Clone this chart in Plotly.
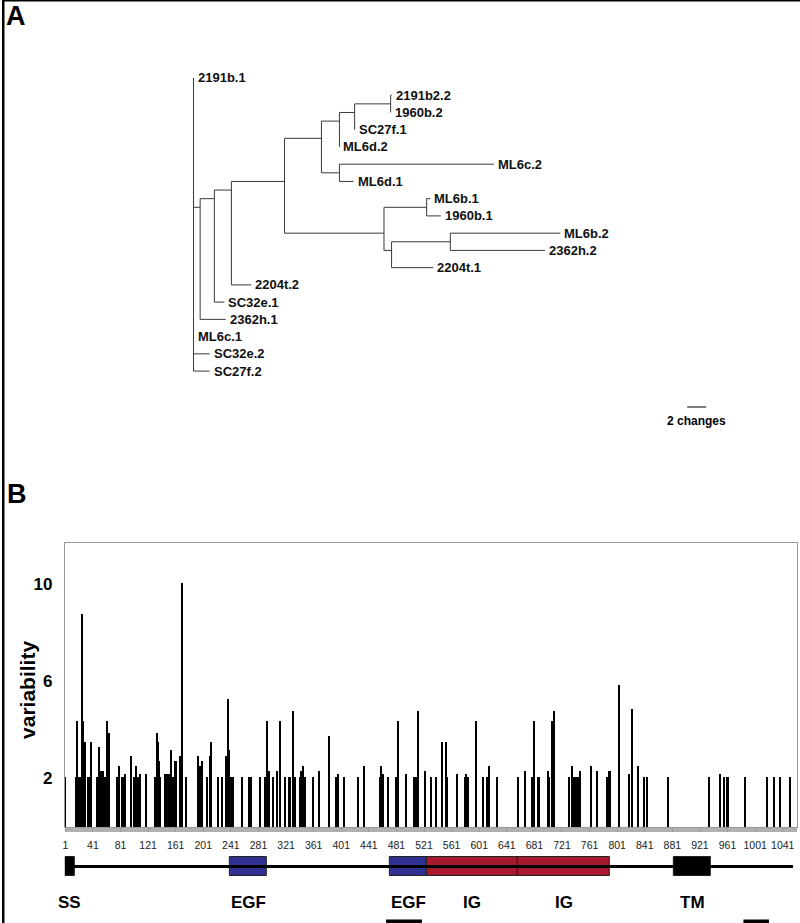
import plotly.graph_objects as go

W, H = 800, 923
FONT = "Liberation Sans, Arial, sans-serif"

# ---------------- Panel A: phylogenetic tree ----------------
node_names = ["", "2191b.1", "", "", "", "", "", "", "", "", "2191b2.2", "1960b.2", "SC27f.1",
              "ML6d.2", "", "ML6c.2", "ML6d.1", "", "", "ML6b.1", "1960b.1", "", "", "ML6b.2",
              "2362h.2", "2204t.1", "2204t.2", "SC32e.1", "2362h.1", "ML6c.1", "SC32e.2", "SC27f.2"]
node_parent = [-1, 0, 0, 2, 3, 4, 5, 6, 7, 8, 9, 9, 8,
               7, 6, 14, 14, 5, 17, 18, 18, 17, 21, 22,
               22, 21, 4, 3, 2, 0, 0, 0]
branch_len = [0, 0, 0.7, 1.5, 1.8, 5.6, 3.9, 1.9, 1.6, 3.8, 0.1, 0.0, 0.0,
              0.0, 1.9, 16.3, 1.5, 10.5, 4.5, 0.4, 1.5, 0.8, 6.2, 11.6,
              10.0, 4.4, 2.1, 1.05, 2.7, 0.0, 1.7, 1.7]
scale_bar_changes = 2
scale_bar_x = 52.1

# ---------------- Panel B: variability per residue ----------------
residue = [1, 17, 18, 20, 22, 25, 27, 30, 34, 36, 38, 47, 49, 50, 52, 53, 56, 58, 61, 62, 64,
           76, 79, 84, 87, 96, 101, 103, 104, 106, 109, 118, 131, 133, 134, 136, 137, 139,
           146, 149, 152, 155, 157, 160, 161, 167, 170, 176, 194, 196, 199, 206, 211, 212,
           222, 228, 234, 237, 239, 242, 244, 257, 267, 269, 271, 284, 290, 293, 294, 296,
           302, 308, 312, 319, 325, 327, 331, 334, 342, 343, 345, 347, 349, 360, 369, 384,
           394, 396, 397, 405, 425, 434, 457, 459, 462, 469, 480, 483, 495, 507, 509, 513,
           523, 531, 539, 547, 553, 555, 569, 580, 582, 584, 585, 597, 606, 613, 616, 627,
           657, 668, 678, 680, 686, 688, 701, 703, 707, 708, 710, 732, 735, 738, 741, 744,
           747, 763, 772, 786, 790, 804, 818, 823, 831, 840, 845, 875, 934, 950, 956, 960,
           962, 987, 1019, 1029, 1037, 1052]
variability = [2.06, 2.06, 4.38, 2.06, 2.06, 8.78, 4.38, 3.50, 2.06, 2.06, 3.50, 2.06, 2.06, 3.29,
               2.29, 2.29, 2.29, 2.06, 3.87, 4.38, 3.87,
               2.06, 2.50, 2.06, 2.18, 2.94, 2.06, 2.06, 2.50, 2.06, 2.18, 2.18, 2.06, 2.06, 3.87,
               3.50, 2.70, 2.06,
               2.18, 2.18, 2.18, 3.18, 2.06, 2.70, 2.70, 2.94, 10.04, 2.06, 2.94, 2.50, 2.70, 2.06,
               2.94, 3.50,
               2.06, 2.06, 2.94, 5.27, 3.18, 2.06, 2.06, 2.06, 2.06, 2.06, 2.06, 2.06, 2.06, 3.87,
               4.38, 2.29,
               2.06, 2.29, 4.38, 2.06, 2.06, 2.06, 4.77, 2.06, 2.06, 2.29, 2.50, 2.06, 2.06, 2.06,
               2.29, 3.73,
               2.06, 2.06, 2.18, 2.06, 2.06, 2.50, 2.06, 2.50, 2.18, 2.06, 2.06, 4.38, 2.18, 2.06,
               2.06, 4.77,
               2.29, 2.06, 2.06, 3.50, 3.50, 2.06, 2.18, 2.06, 2.18, 2.06, 2.06, 4.38, 2.06, 2.06,
               2.50, 2.06,
               2.06, 2.29, 2.06, 4.38, 2.06, 2.06, 2.29, 2.06, 4.38, 4.38, 4.77, 2.06, 2.50, 2.06,
               2.06, 2.06,
               2.29, 2.50, 2.29, 2.06, 2.29, 5.83, 2.18, 4.87, 2.50, 2.06, 2.06, 2.06, 2.06, 2.18,
               2.06, 2.06,
               2.06, 2.06, 2.06, 2.06, 2.06, 2.06]
y_ticks = [2, 6, 10]
x_ticks = [1, 41, 81, 121, 161, 201, 241, 281, 321, 361, 401, 441, 481, 521, 561, 601, 641,
           681, 721, 761, 801, 841, 881, 921, 961, 1001, 1041]

# protein domain architecture
protein_span = [1, 1056]
domain_names = ["SS", "EGF", "EGF", "IG", "IG", "TM"]
domain_start = [0, 239, 471, 525, 657, 883]
domain_end = [15, 293, 525, 657, 790, 937]
domain_colors = ["#000000", "#2E3192", "#2E3192", "#A6192E", "#A6192E", "#000000"]
underline_start = [466, 984]
underline_end = [518, 1021]

# ---------------- tree layout ----------------
n = len(node_names)
children = [[] for _ in range(n)]
for i, p in enumerate(node_parent):
    if p >= 0:
        children[p].append(i)
nx = [0.0] * n
for i in range(n):
    if node_parent[i] >= 0:
        nx[i] = nx[node_parent[i]] + branch_len[i]
leaves = [i for i in range(n) if not children[i]]
ny = [0.0] * n
for k, i in enumerate(leaves):
    ny[i] = k


def leaf_set(i):
    if not children[i]:
        return [i]
    out = []
    for c in children[i]:
        out += leaf_set(c)
    return out


for i in range(n):
    if children[i]:
        ls = leaf_set(i)
        ny[i] = sum(ny[j] for j in ls) / len(ls)

tx, ty = [], []
for i in range(n):
    p = node_parent[i]
    if p >= 0:
        tx += [nx[p], nx[i], None]
        ty += [ny[i], ny[i], None]
    if children[i]:
        cys = [ny[c] for c in children[i]]
        tx += [nx[i], nx[i], None]
        ty += [min(cys), max(cys), None]

fig = go.Figure()
fig.add_trace(go.Scatter(x=tx, y=ty, mode="lines", line=dict(color="#3a3a3a", width=1),
                         xaxis="x2", yaxis="y2", hoverinfo="skip", showlegend=False))

annotations = []
for i in leaves:
    annotations.append(dict(x=nx[i], y=ny[i], xref="x2", yref="y2", text=node_names[i],
                            showarrow=False, xanchor="left", yanchor="middle", xshift=2,
                            font=dict(family=FONT, size=13, color="#111", weight="bold")))

# ---------------- bars ----------------
fig.add_trace(go.Bar(x=residue, y=variability, width=2.2, marker=dict(color="#000", line=dict(width=0)),
                     xaxis="x", yaxis="y", showlegend=False, hoverinfo="x+y"))

# domain diagram
fig.add_trace(go.Scatter(x=protein_span, y=[0, 0], mode="lines", line=dict(color="#000", width=3),
                         xaxis="x", yaxis="y3", showlegend=False, hoverinfo="skip"))
fig.add_trace(go.Bar(y=[0] * len(domain_names), x=[e - s for s, e in zip(domain_start, domain_end)],
                     base=domain_start, orientation="h", width=1,
                     marker=dict(color=domain_colors, line=dict(color="#222", width=1)),
                     xaxis="x", yaxis="y3", showlegend=False, text=domain_names,
                     hoverinfo="text", textposition="none"))

for name, s, e in zip(domain_names, domain_start, domain_end):
    annotations.append(dict(x=(s + e) / 2, y=1 - 902 / H, xref="x", yref="paper", text=name,
                            showarrow=False, xanchor="center", yanchor="middle",
                            font=dict(family=FONT, size=17, color="#000", weight="bold")))

shapes = []
for s, e in zip(underline_start, underline_end):
    shapes.append(dict(type="rect", xref="x", yref="paper", x0=s, x1=e, y0=0, y1=3.5 / H,
                       fillcolor="#000", line=dict(width=0)))

# scale bar
shapes.append(dict(type="line", xref="x2", yref="paper", x0=scale_bar_x,
                   x1=scale_bar_x + scale_bar_changes, y0=1 - 407 / H, y1=1 - 407 / H,
                   line=dict(color="#000", width=1)))
annotations.append(dict(x=scale_bar_x + scale_bar_changes / 2, y=1 - 421 / H, xref="x2", yref="paper",
                        text=f"{scale_bar_changes} changes", showarrow=False,
                        font=dict(family=FONT, size=12, color="#000", weight="bold")))

# page borders
shapes.append(dict(type="rect", xref="paper", yref="paper", x0=0, x1=2.5 / W, y0=0, y1=1,
                   fillcolor="#000", line=dict(width=0)))
shapes.append(dict(type="rect", xref="paper", yref="paper", x0=0, x1=1, y0=1 - 1.5 / H, y1=1,
                   fillcolor="#000", line=dict(width=0)))

# panel letters & y title
annotations.append(dict(x=3 / W, y=1, xref="paper", yref="paper", text="A", showarrow=False,
                        xanchor="left", yanchor="top", borderpad=0,
                        font=dict(family=FONT, size=27, color="#000", weight="bold")))
annotations.append(dict(x=3 / W, y=1 - 494 / H, xref="paper", yref="paper", text="B", showarrow=False,
                        xanchor="left", yanchor="middle",
                        font=dict(family=FONT, size=27, color="#000", weight="bold")))
annotations.append(dict(x=25 / W, y=1 - 690 / H, xref="paper", yref="paper", text="variability",
                        showarrow=False, textangle=-90, xanchor="center", yanchor="middle",
                        font=dict(family=FONT, size=21, color="#000", weight="bold")))

fig.update_layout(
    width=W, height=H, autosize=False,
    margin=dict(l=0, r=0, t=0, b=0),
    paper_bgcolor="white", plot_bgcolor="white",
    barmode="overlay", bargap=0,
    showlegend=False,
    annotations=annotations, shapes=shapes,
    xaxis=dict(domain=[63 / W, 797 / W], range=[0.3, 1061.7], anchor="y",
               tickmode="array", tickvals=x_ticks, ticktext=[str(t) for t in x_ticks],
               ticks="outside", ticklen=4, tickcolor="#999", tickwidth=1,
               minor=dict(ticks="outside", ticklen=4, dtick=1, tick0=0, tickcolor="#b0b0b0", showgrid=False),
               showline=True, linecolor="#999", linewidth=1, mirror=True,
               showgrid=False, zeroline=False, ticklabelstandoff=4,
               tickfont=dict(family=FONT, size=10.5, color="#222")),
    yaxis=dict(domain=[1 - 827 / H, 1 - 543 / H], range=[0, 11.7], anchor="x",
               tickmode="array", tickvals=y_ticks, ticks="", showline=True, linecolor="#999",
               linewidth=1, mirror=True, showgrid=False, zeroline=False, ticklabelstandoff=8,
               tickfont=dict(family=FONT, size=17, color="#000", weight="bold")),
    yaxis3=dict(domain=[1 - 886 / H, 1 - 847 / H], range=[-1, 1], anchor="x", visible=False,
                fixedrange=True),
    xaxis2=dict(domain=[160 / W, 760 / W], range=[(160 - 192) / 9.5, (760 - 192) / 9.5],
                anchor="y2", visible=False),
    yaxis2=dict(domain=[1 - 430 / H, 1 - 40 / H], range=[(430 - 78) / 17.24, (40 - 78) / 17.24],
                anchor="x2", visible=False),
)

fig.write_html("out.html", config={"displayModeBar": False},
               post_script="document.body.style.margin='0px';document.body.style.padding='0px';"
                           "document.body.style.overflow='hidden';")
